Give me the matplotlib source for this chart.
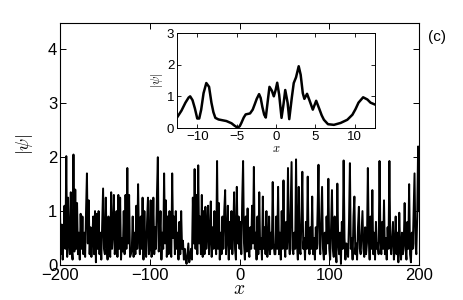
import numpy as np
import matplotlib
matplotlib.use('Agg')
import matplotlib.pyplot as plt

plt.rcParams['font.family'] = ['Liberation Sans', 'DejaVu Sans']
plt.rcParams['mathtext.fontset'] = 'cm'

# main panel: |psi| sampled every 1 unit from -200 to 200
x_main = np.arange(-200, 201, 1)
psi_main = [
    0.95, 0.2, 0.75, 0.1, 0.5, 1.1, 0.3, 2.02, 0.15, 1.25, 0.4, 0.2, 1.35, 0.3, 0.1, 2.05, 0.25, 1.4, 0.3, 1.15,
    0.2, 0.6, 0.1, 0.95, 0.3, 0.9, 0.2, 0.6, 0.15, 1.0, 1.7, 0.4, 1.2, 0.2, 0.7, 0.15, 0.5, 0.9, 0.2, 1.0,
    0.05, 0.95, 0.3, 1.0, 0.2, 0.6, 0.1, 0.8, 1.42, 0.3, 0.2, 1.25, 0.4, 0.1, 0.9, 0.25, 0.15, 1.35, 0.3, 0.6,
    1.3, 0.2, 0.4, 1.0, 0.15, 1.3, 0.3, 1.25, 0.1, 0.5, 0.25, 1.0, 0.2, 1.3, 0.3, 1.8, 0.4, 1.3, 0.15, 0.2,
    0.3, 0.9, 0.15, 0.6, 0.2, 1.1, 0.3, 1.5, 0.5, 0.2, 0.9, 0.3, 1.25, 0.1, 1.0, 0.3, 0.15, 0.8, 1.25, 0.2,
    0.3, 1.2, 0.15, 0.4, 1.25, 0.2, 0.7, 0.3, 1.3, 2.0, 0.25, 0.5, 1.0, 0.1, 0.6, 0.3, 1.7, 0.4, 1.2, 0.15,
    0.9, 0.2, 1.0, 0.3, 0.15, 1.7, 0.5, 0.9, 0.2, 1.0, 0.3, 0.6, 0.1, 0.8, 0.2, 1.0, 0.3, 0.45, 0.1, 0.3,
    0.1, 0.02, 0.2, 0.4, 0.05, 0.15, 0.3, 0.1, 1.25, 0.4, 1.78, 0.3, 1.3, 0.2, 1.85, 0.4, 0.9, 0.2, 1.3, 0.15,
    1.0, 0.2, 1.08, 0.3, 0.6, 1.1, 0.2, 0.5, 1.18, 0.15, 0.7, 0.3, 1.0, 0.4, 0.2, 1.93, 0.3, 1.15, 0.1, 0.6,
    0.2, 0.9, 0.3, 1.0, 1.39, 0.2, 0.5, 1.1, 0.1, 0.8, 0.3, 1.0, 0.2, 0.6, 1.35, 0.3, 0.1, 1.45, 0.4, 0.9,
    0.3, 0.8, 0.2, 1.2, 1.93, 0.4, 0.1, 0.9, 0.25, 1.05, 0.3, 0.15, 0.7, 0.3, 1.1, 0.4, 1.82, 0.3, 0.6, 0.1,
    0.9, 0.2, 1.35, 0.3, 0.5, 0.1, 1.27, 0.3, 0.7, 0.2, 1.0, 0.15, 0.4, 0.9, 0.2, 0.6, 0.3, 1.54, 0.4, 0.2,
    0.2, 0.9, 0.3, 1.45, 0.2, 0.6, 0.1, 1.0, 0.3, 1.57, 0.4, 0.15, 0.8, 0.3, 1.8, 0.5, 0.2, 1.1, 1.91, 0.3,
    0.2, 0.6, 0.3, 1.96, 0.4, 0.1, 1.45, 0.3, 0.2, 0.9, 1.73, 0.3, 0.5, 0.1, 0.8, 0.3, 1.64, 0.4, 0.2, 0.7,
    0.3, 1.27, 0.2, 0.5, 0.1, 0.7, 0.3, 1.0, 1.86, 0.4, 0.2, 0.8, 1.45, 0.3, 0.1, 0.6, 0.2, 0.9, 0.4, 1.6,
    0.3, 0.1, 0.7, 1.39, 0.3, 0.15, 0.9, 0.3, 0.05, 1.51, 0.4, 0.2, 0.6, 0.02, 0.8, 0.3, 1.94, 0.5, 0.1, 0.4,
    0.3, 0.15, 0.8, 1.89, 0.3, 0.5, 0.1, 0.9, 1.27, 0.2, 0.4, 0.1, 0.7, 1.08, 0.3, 0.2, 0.6, 1.0, 0.3, 0.15,
    0.7, 0.2, 0.4, 1.8, 0.5, 0.1, 0.9, 0.3, 1.39, 0.2, 0.6, 0.1, 0.8, 0.3, 0.4, 0.2, 1.93, 0.5, 0.2, 0.8,
    0.3, 1.2, 0.2, 0.5, 0.1, 0.7, 0.3, 1.93, 0.4, 0.2, 0.5, 0.8, 0.1, 0.3, 0.9, 0.2, 0.6, 0.05, 0.97, 0.3,
    0.1, 0.6, 0.2, 0.4, 1.15, 0.3, 0.1, 0.8, 0.3, 1.5, 0.2, 0.05, 0.6, 0.3, 1.0, 1.7, 0.4, 0.2, 0.9, 2.2,
    1.0,
]

# inset: central part of the profile
x_ins = [-12.57, -12.0, -11.5, -11.1, -10.9, -10.6, -10.3, -10.0, -9.75, -9.5, -9.2, -8.85, -8.5, -8.2,
         -7.95, -7.7, -7.3, -6.9, -6.3, -5.65, -5.3, -5.0, -4.85, -4.6, -4.4, -4.1, -3.85, -3.3, -2.96,
         -2.7, -2.45, -2.15, -1.95, -1.73, -1.5, -1.3, -1.05, -0.83, -0.53, -0.28, -0.05, 0.15, 0.4, 0.7,
         0.95, 1.17, 1.47, 1.68, 2.0, 2.25, 2.54, 2.88, 3.13, 3.4, 3.6, 3.94, 4.24, 4.67, 5.1, 5.5, 5.8,
         6.08, 6.6, 7.35, 8.2, 9.05, 9.7, 10.1, 10.47, 11.06, 11.6, 12.0, 12.57]
psi_ins = [0.33, 0.55, 0.8, 0.96, 1.0, 0.88, 0.62, 0.3, 0.3, 0.58, 1.1, 1.42, 1.3, 0.8,
           0.5, 0.32, 0.27, 0.25, 0.22, 0.15, 0.08, 0.03, 0.01, 0.06, 0.16, 0.33, 0.43, 0.46, 0.58,
           0.75, 0.92, 1.07, 0.95, 0.66, 0.42, 0.33, 0.85, 1.3, 1.18, 1.0, 1.2, 1.43, 1.05, 0.32,
           0.75, 1.2, 0.8, 0.28, 0.95, 1.42, 1.6, 1.95, 1.68, 1.1, 0.92, 1.08, 0.88, 0.58, 0.86, 0.6, 0.4,
           0.26, 0.12, 0.1, 0.16, 0.26, 0.42, 0.6, 0.8, 0.97, 0.9, 0.8, 0.74]

fig = plt.figure(figsize=(4.63, 3.0), dpi=100)
ax = fig.add_axes([0.1296, 0.1167, 0.7754, 0.8083])
ax.plot(x_main, psi_main, color='black', lw=1.4)
ax.set_xlim(-200, 200)
ax.set_ylim(0, 4.5)
ax.set_xticks([-200, -100, 0, 100, 200])
ax.set_yticks([0, 1, 2, 3, 4])
ax.set_xticklabels(['\u2212200', '\u2212100', '0', '100', '200'])
ax.tick_params(direction='in', top=True, right=True, labelsize=12, length=4, width=0.7, pad=2)
for s in ax.spines.values():
    s.set_linewidth(0.8)
ax.set_xlabel(r'$x$', fontsize=14, labelpad=-1)
ax.set_ylabel(r'$|\psi|$', fontsize=13, labelpad=9)
fig.text(0.925, 0.865, '(c)', fontsize=11)

ins = fig.add_axes([0.3823, 0.5733, 0.4277, 0.3167])
ins.plot(x_ins, psi_ins, color='black', lw=1.8)
ins.set_xlim(-12.57, 12.57)
ins.set_ylim(0, 3)
ins.set_xticks([-10, -5, 0, 5, 10])
ins.set_yticks([0, 1, 2, 3])
ins.set_xticklabels(['\u221210', '\u22125', '0', '5', '10'])
ins.tick_params(direction='in', top=True, right=True, labelsize=9.5, length=3, width=0.6, pad=2)
for s in ins.spines.values():
    s.set_linewidth(0.7)
ins.set_xlabel(r'$x$', fontsize=9, labelpad=0)
ins.set_ylabel(r'$|\psi|$', fontsize=9, labelpad=1)

fig.savefig('out.png', dpi=100)
